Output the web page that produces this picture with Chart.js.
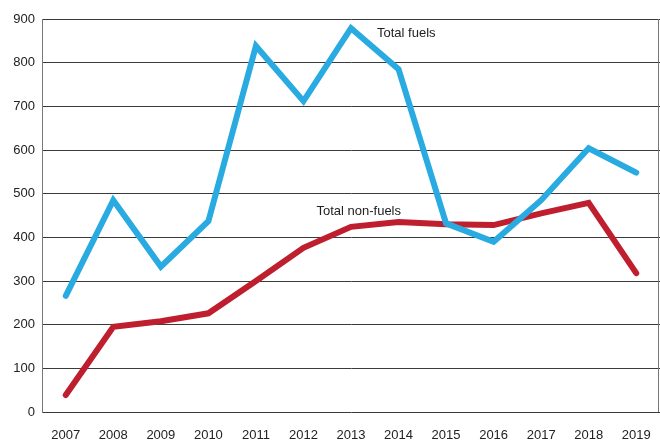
<!DOCTYPE html>
<html>
<head>
<meta charset="utf-8">
<script src="https://cdn.jsdelivr.net/npm/chart.js@4/dist/chart.umd.min.js"></script>
<style>
    html, body { margin: 0; padding: 0; background: #fff; }
    #wrap { width: 660px; height: 442px; }
</style>
</head>
<body>
<div id="wrap"><canvas id="chart" width="660" height="442"></canvas></div>
<script>
const years = ['2007', '2008', '2009', '2010', '2011', '2012', '2013', '2014', '2015', '2016', '2017', '2018', '2019'];
const totalFuels = [266, 485, 333, 437, 838, 712, 879, 785, 432, 390, 485, 604, 548];
const totalNonFuels = [39, 195, 208, 226, 300, 376, 424, 435, 430, 428, 455, 479, 318];
const yTicks = [0, 100, 200, 300, 400, 500, 600, 700, 800, 900];

const labelFont = '13px "Liberation Sans", Arial, sans-serif';

// series names written inside the plot, plus the right edge of the frame
const seriesLabels = {
    id: 'seriesLabels',
    afterDraw(chart) {
        const { ctx, chartArea, scales } = chart;
        const x = scales.x, y = scales.y;
        ctx.save();
        ctx.strokeStyle = '#777';
        ctx.lineWidth = 1;
        ctx.beginPath();
        ctx.moveTo(chartArea.right - 1.5, chartArea.top);
        ctx.lineTo(chartArea.right - 1.5, chartArea.bottom);
        ctx.stroke();

        ctx.fillStyle = '#222';
        ctx.font = labelFont;
        ctx.textBaseline = 'middle';
        ctx.textAlign = 'left';
        ctx.fillText('Total fuels', x.getPixelForValue(6) + 26, y.getPixelForValue(867));
        ctx.fillText('Total non-fuels', x.getPixelForValue(5) + 13, y.getPixelForValue(460));
        ctx.restore();
    }
};

new Chart(document.getElementById('chart'), {
    type: 'line',
    data: {
        labels: years,
        datasets: [
            {
                label: 'Total fuels',
                data: totalFuels,
                borderColor: '#29abe2',
                borderWidth: 6,
                pointRadius: 0,
                tension: 0,
                borderJoinStyle: 'miter',
                borderCapStyle: 'round'
            },
            {
                label: 'Total non-fuels',
                data: totalNonFuels,
                borderColor: '#be1e2d',
                borderWidth: 6,
                pointRadius: 0,
                tension: 0,
                borderJoinStyle: 'miter',
                borderCapStyle: 'round'
            }
        ]
    },
    options: {
        responsive: false,
        animation: false,
        layout: { padding: { top: 19, right: 0, left: 0, bottom: 0 } },
        plugins: {
            legend: { display: false },
            tooltip: { enabled: false }
        },
        scales: {
            x: {
                offset: true,
                grid: { display: false },
                border: { display: false },
                ticks: {
                    color: '#222',
                    font: { family: '"Liberation Sans", Arial, sans-serif', size: 13 },
                    padding: 8,
                    maxRotation: 0,
                    autoSkip: false
                },
                afterFit(scale) { scale.height = 30; }
            },
            y: {
                min: 0,
                max: 900,
                afterBuildTicks(scale) { scale.ticks = yTicks.map(v => ({ value: v })); },
                grid: { color: '#3a3a3a', lineWidth: 1, drawTicks: false },
                border: { display: true, color: '#777', width: 1 },
                ticks: {
                    color: '#222',
                    font: { family: '"Liberation Sans", Arial, sans-serif', size: 13 },
                    padding: 7
                },
                afterFit(scale) { scale.width = 42; }
            }
        }
    },
    plugins: [seriesLabels]
});
</script>
</body>
</html>
